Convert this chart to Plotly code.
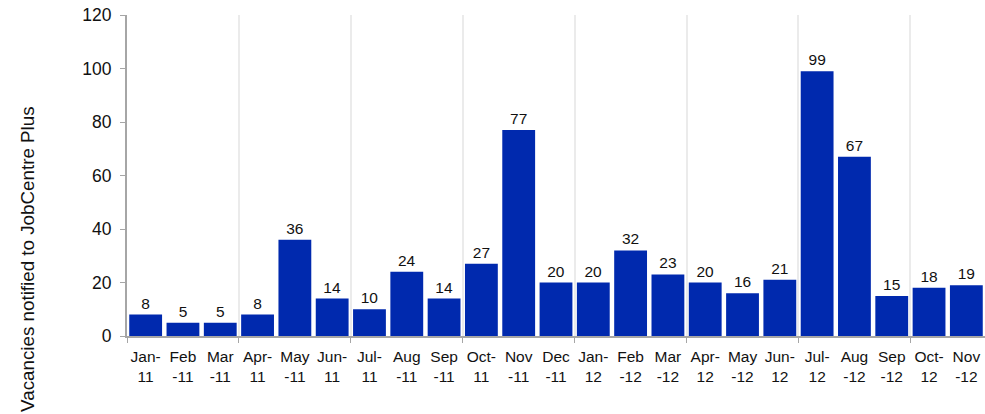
import plotly.graph_objects as go

# Monthly vacancies, Jan 2011 - Nov 2012
months = ['Jan-<br>11', 'Feb<br>-11', 'Mar<br>-11', 'Apr-<br>11', 'May<br>-11', 'Jun-<br>11',
          'Jul-<br>11', 'Aug<br>-11', 'Sep<br>-11', 'Oct-<br>11', 'Nov<br>-11', 'Dec<br>-11',
          'Jan-<br>12', 'Feb<br>-12', 'Mar<br>-12', 'Apr-<br>12', 'May<br>-12', 'Jun-<br>12',
          'Jul-<br>12', 'Aug<br>-12', 'Sep<br>-12', 'Oct-<br>12', 'Nov<br>-12']
vacancies = [8, 5, 5, 8, 36, 14, 10, 24, 14, 27, 77, 20, 20, 32, 23, 20, 16, 21, 99, 67, 15, 18, 19]
y_ticks = [0, 20, 40, 60, 80, 100, 120]

positions = list(range(len(months)))
# quarter boundaries get a vertical gridline
quarter_edges = [i - 0.5 for i in positions if i % 3 == 0] + [len(months) - 0.5]

fig = go.Figure()
fig.add_trace(go.Bar(
    x=positions, y=vacancies,
    width=0.88,
    marker=dict(color='#0029AE', line=dict(width=0)),
    text=vacancies, textposition='outside',
    textfont=dict(family='Liberation Sans, Arial', size=15.5, color='#111111'),
    cliponaxis=False
))

fig.update_layout(
    width=985, height=414,
    margin=dict(l=127, r=0, t=15, b=78),
    paper_bgcolor='white', plot_bgcolor='white',
    showlegend=False,
    font=dict(family='Liberation Sans, Arial', color='#111111'),
    xaxis=dict(
        range=[-0.5, len(months) - 0.5],
        tickmode='array', tickvals=positions, ticktext=months,
        tickfont=dict(size=15.5), ticks='', showgrid=False,
        ticklabeloverflow='allow', ticklabelstandoff=5,
        showline=True, linecolor='#a6a6a6', linewidth=2,
        zeroline=False,
        minor=dict(tickmode='array', tickvals=quarter_edges, showgrid=True,
                   gridcolor='#ebebeb', gridwidth=2,
                   ticks='outside', ticklen=5, tickcolor='#a6a6a6', tickwidth=1)
    ),
    yaxis=dict(
        range=[0, 120], tickvals=y_ticks,
        tickfont=dict(size=17.5), showgrid=False, zeroline=False,
        ticklabeloverflow='allow', ticklabelstandoff=5,
        showline=True, linecolor='#a6a6a6', linewidth=2,
        ticks='outside', ticklen=5, tickcolor='#a6a6a6'
    ),
    annotations=[dict(
        text='Vacancies notified to JobCentre Plus',
        xref='paper', yref='paper', x=-0.1154, y=0.24,
        xanchor='center', yanchor='middle',
        textangle=-90, showarrow=False,
        font=dict(size=18.8, color='#111111')
    )]
)

# drop the default page margin so the figure fills the window exactly
fig.write_html("out.html", config={'displayModeBar': False},
               post_script="document.body.style.margin='0';document.body.style.overflow='hidden';")
